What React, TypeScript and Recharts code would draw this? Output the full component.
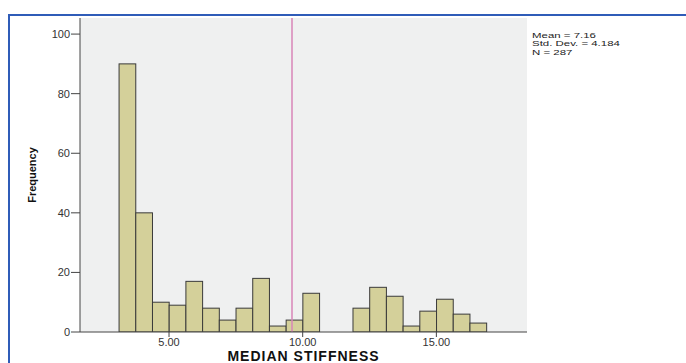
import React from 'react';
import {
  ComposedChart,
  Bar,
  XAxis,
  YAxis,
  CartesianGrid,
  ReferenceLine,
} from 'recharts';

// Histogram bins (left edge of each bin) and frequencies
const binLefts = [
  3.125, 3.75, 4.375, 5.0, 5.625, 6.25, 6.875, 7.5, 8.125, 8.75, 9.375,
  10.0, 10.625, 11.25, 11.875, 12.5, 13.125, 13.75, 14.375, 15.0, 15.625, 16.25,
];
const counts = [
  90, 40, 10, 9, 17, 8, 4, 8, 18, 2, 4,
  13, 0, 0, 8, 15, 12, 2, 7, 11, 6, 3,
];
const BIN_WIDTH = 0.625;
const xTicks = [5, 10, 15];
const yTicks = [0, 20, 40, 60, 80, 100];
const X_DOMAIN: [number, number] = [1.67, 18.39];
const Y_DOMAIN: [number, number] = [0, 105.4];
const meanLineX = 9.6;
const statLines = ['Mean = 7.16', 'Std. Dev. = 4.184', 'N = 287'];

const data = binLefts.map((l, i) => ({ mid: l + BIN_WIDTH / 2, count: counts[i] }));

const CHART_W = 686;
const CHART_H = 363;
const MARGIN = { top: 18, right: 159, bottom: 0, left: 0 };
const Y_AXIS_W = 80;
const PLOT_W = CHART_W - MARGIN.left - MARGIN.right - Y_AXIS_W;
const barPx = (PLOT_W / (X_DOMAIN[1] - X_DOMAIN[0])) * BIN_WIDTH;

const fmt = (v: number) => v.toFixed(2);

const HistBar = (props: any) => {
  const { x, y, width, height } = props;
  if (!height || height <= 0) return null;
  const cx = x + width / 2;
  return (
    <rect
      x={cx - barPx / 2}
      y={y}
      width={barPx}
      height={height}
      fill="#d4d09a"
      stroke="#3a3a3a"
      strokeWidth={1}
    />
  );
};

export default function App() {
  return (
    <div
      style={{
        position: 'absolute',
        left: 0,
        top: 0,
        width: CHART_W,
        height: CHART_H,
        background: '#ffffff',
        overflow: 'hidden',
        fontFamily: 'Arial, "Liberation Sans", sans-serif',
      }}
    >
      <div
        style={{
          position: 'absolute',
          left: 8,
          top: 14,
          right: -4,
          bottom: -4,
          borderLeft: '2px solid #2f5cb8',
          borderTop: '2px solid #2f5cb8',
        }}
      />
      <div style={{ position: 'absolute', left: 0, top: 0 }}>
        <ComposedChart width={CHART_W} height={CHART_H} data={data} margin={MARGIN}>
          <CartesianGrid horizontal={false} vertical={false} fill="#eff0f0" />
          <XAxis
            dataKey="mid"
            type="number"
            domain={X_DOMAIN}
            allowDataOverflow
            ticks={xTicks}
            tickFormatter={fmt}
            height={31}
            tickSize={5}
            tickMargin={1}
            stroke="#444"
            tick={{ fill: '#333', fontSize: 11, fontFamily: 'Arial, "Liberation Sans", sans-serif' }}
            label={{
              value: 'MEDIAN STIFFNESS',
              position: 'insideBottom',
              offset: 2,
              style: {
                fill: '#111',
                fontSize: 14,
                fontWeight: 'bold',
                letterSpacing: 1,
                fontFamily: 'Arial, "Liberation Sans", sans-serif',
              },
            }}
          />
          <XAxis
            xAxisId="top"
            orientation="top"
            type="number"
            domain={X_DOMAIN}
            allowDataOverflow
            height={0}
            tick={false}
            tickLine={false}
            stroke="#666"
          />
          <YAxis
            type="number"
            domain={Y_DOMAIN}
            allowDataOverflow
            ticks={yTicks}
            width={Y_AXIS_W}
            tickSize={9}
            tickMargin={1}
            stroke="#444"
            tick={{ fill: '#333', fontSize: 11, fontFamily: 'Arial, "Liberation Sans", sans-serif' }}
            label={{
              value: 'Frequency',
              angle: -90,
              position: 'insideLeft',
              offset: 32,
              style: {
                textAnchor: 'middle',
                fill: '#111',
                fontSize: 11,
                fontWeight: 'bold',
                fontFamily: 'Arial, "Liberation Sans", sans-serif',
              },
            }}
          />
          <YAxis
            yAxisId="right"
            orientation="right"
            type="number"
            domain={Y_DOMAIN}
            width={0}
            tick={false}
            tickLine={false}
            stroke="#666"
          />
          <Bar
            dataKey="count"
            fill="#d4d09a"
            stroke="#3a3a3a"
            barSize={barPx}
            shape={HistBar}
            isAnimationActive={false}
          />
          <ReferenceLine x={meanLineX} stroke="#d985b8" strokeWidth={1.5} />
        </ComposedChart>
      </div>
      <div
        style={{
          position: 'absolute',
          left: 532,
          top: 31,
          fontSize: 11,
          lineHeight: '12px',
          color: '#222',
          transform: 'scale(1.04, 0.7)',
          transformOrigin: 'left top',
          whiteSpace: 'nowrap',
        }}
      >
        {statLines.map((s) => (
          <div key={s}>{s}</div>
        ))}
      </div>
    </div>
  );
}
